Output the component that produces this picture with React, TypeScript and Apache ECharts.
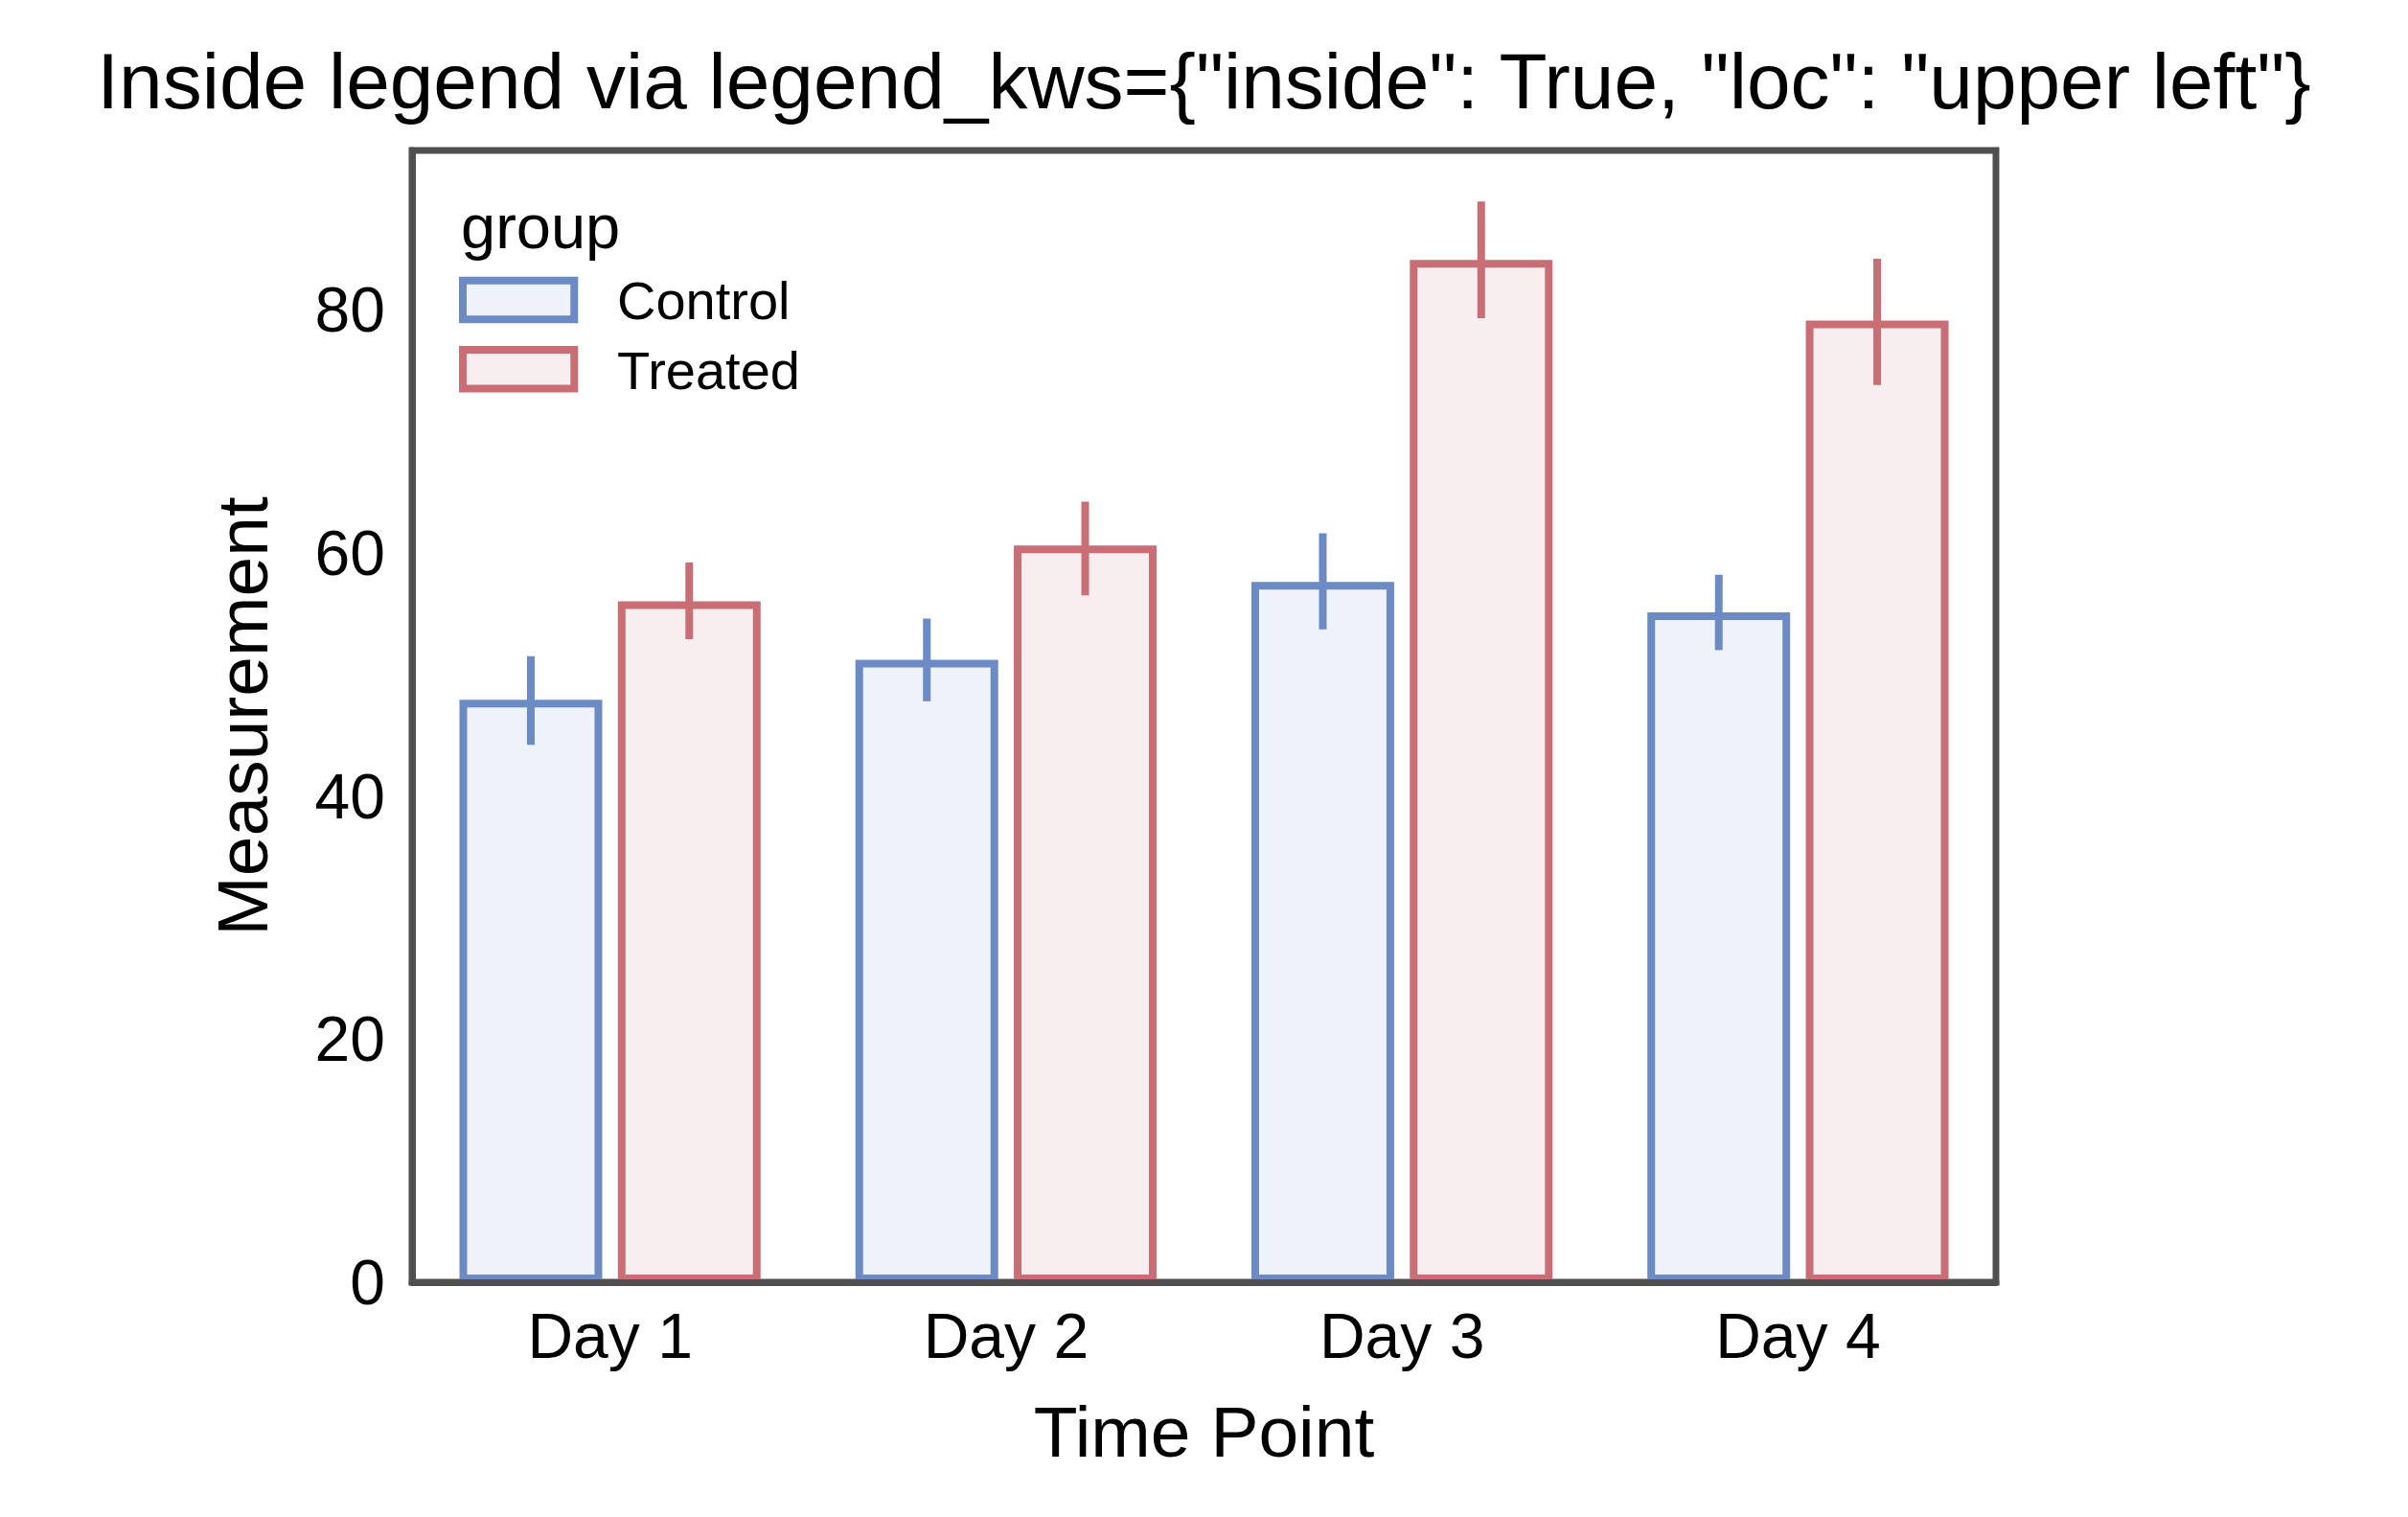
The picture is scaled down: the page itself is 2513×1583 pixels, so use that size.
import React, { useEffect, useRef } from "react";
import * as echarts from "echarts";

const categories = ["Day 1", "Day 2", "Day 3", "Day 4"];
const yTicks = [0, 20, 40, 60, 80];
const groups = ["Control", "Treated"];
const controlMean = [47.9, 51.2, 57.6, 55.1];
const controlLow = [44.2, 47.8, 53.7, 52.0];
const controlHigh = [51.5, 54.6, 61.6, 58.2];
const treatedMean = [56.0, 60.6, 84.1, 79.1];
const treatedLow = [52.9, 56.5, 79.3, 73.8];
const treatedHigh = [59.2, 64.2, 88.9, 84.2];

const FONT = "'Liberation Sans', Arial, Helvetica, sans-serif";
const TEXT = "#000000";
const FRAME = "#4f4f4f";
const EDGE = ["#6c8ac4", "#c96e75"];
const FILL = ["#eef2fa", "#f8eef0"];
const BAR_FRAC = 0.3605;
const SLOT_FRAC = 0.4;

export default function App() {
  const ref = useRef<HTMLDivElement>(null);

  useEffect(() => {
    if (!ref.current) return;
    const chart = echarts.init(ref.current, undefined, { renderer: "svg" });

    const means = [controlMean, treatedMean];
    const lows = [controlLow, treatedLow];
    const highs = [controlHigh, treatedHigh];

    const barSeries = groups.map((g, gi) => ({
      name: g,
      type: "bar",
      data: means[gi],
      barWidth: `${BAR_FRAC * 100}%`,
      barGap: `${((SLOT_FRAC - BAR_FRAC) / BAR_FRAC) * 100}%`,
      itemStyle: {
        color: FILL[gi],
        borderColor: EDGE[gi],
        borderWidth: 8,
      },
      z: 2,
    }));

    const errSeries = groups.map((g, gi) => ({
      name: g + " err",
      type: "custom",
      z: 4,
      data: categories.map((_, i) => [i, lows[gi][i], highs[gi][i]]),
      encode: { x: 0, y: [1, 2] },
      renderItem: (params: any, api: any) => {
        const idx = api.value(0);
        const band = api.size([1, 0])[0];
        const sign = gi === 0 ? -1 : 1;
        const p1 = api.coord([idx, api.value(1)]);
        const p2 = api.coord([idx, api.value(2)]);
        const x = p1[0] + sign * band * (SLOT_FRAC / 2);
        return {
          type: "line",
          shape: { x1: x, y1: p1[1], x2: x, y2: p2[1] },
          style: { stroke: EDGE[gi], lineWidth: 8 },
        };
      },
    }));

    const option: any = {
      animation: false,
      backgroundColor: "#ffffff",
      textStyle: { fontFamily: FONT, color: TEXT },
      title: {
        text: 'Inside legend via legend_kws={"inside": True, "loc": "upper left"}',
        left: "center",
        top: 38,
        textStyle: { fontFamily: FONT, fontSize: 82, fontWeight: "normal", color: TEXT },
      },
      grid: {
        left: 430,
        top: 157,
        width: 1653,
        height: 1181,
        show: true,
        borderColor: FRAME,
        borderWidth: 7,
        backgroundColor: "transparent",
        containLabel: false,
      },
      xAxis: {
        type: "category",
        data: categories,
        z: 10,
        name: "Time Point",
        nameLocation: "middle",
        nameGap: 118,
        nameTextStyle: { fontFamily: FONT, fontSize: 75, color: TEXT },
        axisLine: { show: true, lineStyle: { color: FRAME, width: 7 } },
        axisTick: { show: false },
        axisLabel: { fontFamily: FONT, fontSize: 66, color: TEXT, margin: 23 },
        splitLine: { show: false },
      },
      yAxis: {
        type: "value",
        min: 0,
        max: 93.1,
        interval: 20,
        z: 10,
        name: "Measurement",
        nameLocation: "middle",
        nameGap: 140,
        nameTextStyle: { fontFamily: FONT, fontSize: 75, color: TEXT },
        axisLine: { show: true, lineStyle: { color: FRAME, width: 7 } },
        axisTick: { show: false },
        axisLabel: {
          fontFamily: FONT,
          fontSize: 66,
          color: TEXT,
          margin: 28,
          showMaxLabel: false,
          formatter: (v: number) => (yTicks.indexOf(v) >= 0 ? String(v) : ""),
        },
        splitLine: { show: false },
      },
      graphic: [
        {
          type: "text",
          x: 481,
          y: 236.5,
          z: 20,
          style: {
            text: "group",
            fontFamily: FONT,
            fontSize: 65,
            fill: TEXT,
            verticalAlign: "middle",
          },
        },
        ...groups.map((g, gi) => ({
          type: "group",
          x: 483,
          y: gi === 0 ? 292.7 : 365,
          z: 20,
          children: [
            {
              type: "rect",
              shape: { x: 0, y: 0, width: 116.3, height: 40.5 },
              style: { fill: FILL[gi], stroke: EDGE[gi], lineWidth: 8 },
            },
            {
              type: "text",
              x: 161,
              y: 21.2,
              style: {
                text: g,
                fontFamily: FONT,
                fontSize: 56,
                fill: TEXT,
                verticalAlign: "middle",
              },
            },
          ],
        })),
      ],
      series: [...barSeries, ...errSeries],
    };

    chart.setOption(option);
    return () => chart.dispose();
  }, []);

  return (
    <div
      ref={ref}
      style={{ position: "fixed", left: 0, top: 0, width: 2513, height: 1583, background: "#fff" }}
    />
  );
}
